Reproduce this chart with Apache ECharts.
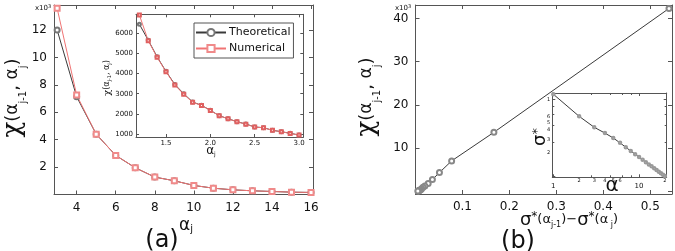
<!DOCTYPE html>
<html>
<head>
<meta charset="utf-8">
<script src="https://cdn.jsdelivr.net/npm/echarts@6/dist/echarts.min.js"></script>
<style>
  html, body { margin: 0; padding: 0; background: #fff; }
  #container { width: 675px; height: 251px; }
</style>
</head>
<body>
<div id="container"></div>
<script>
// panel (a), main plot, chi in units of 10^3
var alphaMain = [3, 4, 5, 6, 7, 8, 9, 10, 11, 12, 13, 14, 15, 16];
var chiTheo = [12.0, 7.13, 4.4, 2.85, 1.95, 1.27, 1.0, 0.66, 0.46, 0.34, 0.27, 0.22, 0.17, 0.15];
var chiNum = [13.58, 7.25, 4.4, 2.85, 1.95, 1.27, 1.0, 0.66, 0.46, 0.34, 0.27, 0.22, 0.17, 0.15];

// panel (a), inset
var alphaInset = [1.2, 1.3, 1.4, 1.5, 1.6, 1.7, 1.8, 1.9, 2.0, 2.1, 2.2, 2.3, 2.4, 2.5, 2.6, 2.7, 2.8, 2.9, 3.0];
var chiInsetTheo = [6450, 5660, 4830, 4110, 3460, 3000, 2590, 2425, 2177, 1909, 1760, 1611, 1497, 1348, 1313, 1185, 1115, 1035, 950];
var chiInsetNum = [6910, 5633, 4808, 4093, 3433, 2971, 2574, 2420, 2170, 1905, 1755, 1605, 1490, 1345, 1310, 1180, 1110, 1030, 945];

// panel (b), main plot
var sigmaDiff = [0.540, 0.167, 0.077, 0.051, 0.036, 0.027, 0.020, 0.016, 0.013, 0.011, 0.009, 0.008, 0.007, 0.006, 0.005];
var chiB = [42.3, 13.7, 7.1, 4.4, 2.8, 1.9, 1.27, 1.0, 0.66, 0.46, 0.34, 0.27, 0.22, 0.17, 0.15];

// panel (b), inset (log-log)
var alphaLog = [1, 2, 3, 4, 5, 6, 7, 8, 9, 10, 11, 12, 13, 14, 15, 16, 17, 18, 19, 20];
var sigmaStar = [1.18, 0.606, 0.435, 0.365, 0.315, 0.272, 0.238, 0.213, 0.193, 0.177, 0.163, 0.152, 0.142, 0.134, 0.126, 0.120, 0.114, 0.109, 0.104, 0.100];
var logXMinor = [2, 3, 4, 5, 6, 20];
var logXMinorText = ['2', '3', '4', '5', '6', '2'];
var logXMajor = [1, 10];
var logYTicks = [1, 0.6, 0.5, 0.4, 0.3, 0.2];
var logYText = ['1', '6', '5', '4', '3', '2'];

var FONT = 'DejaVu Sans';
var frameColor = '#555';
var black = '#3a3a3a';
var red = '#f07474';

function pairs(xs, ys) {
    var out = [];
    for (var i = 0; i < xs.length; i++) out.push([xs[i], ys[i]]);
    return out;
}

function near(v, step) {
    return Math.abs(v / step - Math.round(v / step)) < 1e-6;
}

function frameAxis(base, extra) {
    var a = {
        axisLine: {show: true, onZero: false, lineStyle: {color: frameColor, width: 1}},
        axisTick: {show: true, inside: true, length: 4, lineStyle: {color: frameColor}},
        splitLine: {show: false},
        axisLabel: {show: false}
    };
    for (var k in base) a[k] = base[k];
    for (var k2 in extra || {}) a[k2] = extra[k2];
    return a;
}

var dom = document.getElementById('container');
var myChart = echarts.init(dom, null, {renderer: 'canvas'});

var labelMain = {show: true, color: '#111', fontFamily: FONT, fontSize: 12, margin: 7};
var labelSmall = {show: true, color: '#111', fontFamily: FONT, fontSize: 7, margin: 3};
var smallTick = {show: true, inside: true, length: 3, lineStyle: {color: frameColor}};
var logMinor = {show: true, splitNumber: 5, length: 2, lineStyle: {color: frameColor}};

var option = {
    animation: false,
    backgroundColor: '#fff',
    grid: [
        {left: 54, top: 5, width: 259, height: 189.5, containLabel: false},
        {left: 136, top: 14.3, width: 167.3, height: 122.7, show: true, backgroundColor: '#fff', borderWidth: 0, z: 3},
        {left: 415.5, top: 5, width: 258.5, height: 189, containLabel: false},
        {left: 552.3, top: 93, width: 114.4, height: 84.3, show: true, backgroundColor: '#fff', borderWidth: 0, z: 3}
    ],
    xAxis: [
        frameAxis({gridIndex: 0, type: 'value', min: 2.84, max: 16.1, splitNumber: 7, position: 'bottom'}, {
            axisLabel: Object.assign({}, labelMain, {
                formatter: function (v) { return (near(v, 2) && v >= 4) ? String(Math.round(v)) : ''; }
            })
        }),
        frameAxis({gridIndex: 0, type: 'value', min: 2.84, max: 16.1, splitNumber: 7, position: 'top'}),
        frameAxis({gridIndex: 1, type: 'value', min: 1.162, max: 3.048, splitNumber: 4, position: 'bottom', z: 4}, {
            axisTick: smallTick,
            axisLabel: Object.assign({}, labelSmall, {
                formatter: function (v) { return (near(v, 0.5) && v > 1.4) ? v.toFixed(1) : ''; }
            })
        }),
        frameAxis({gridIndex: 1, type: 'value', min: 1.162, max: 3.048, splitNumber: 4, position: 'top', z: 4}, {
            axisTick: smallTick
        }),
        frameAxis({gridIndex: 2, type: 'value', min: 0, max: 0.5464, splitNumber: 5, position: 'bottom'}, {
            axisLabel: Object.assign({}, labelMain, {
                formatter: function (v) { return (near(v, 0.1) && v > 0.05 && v < 0.52) ? v.toFixed(1) : ''; }
            })
        }),
        frameAxis({gridIndex: 2, type: 'value', min: 0, max: 0.5464, splitNumber: 5, position: 'top'}),
        frameAxis({gridIndex: 3, type: 'log', logBase: 10, min: 0.973, max: 21, position: 'bottom', z: 4}, {
            axisTick: smallTick, minorTick: logMinor
        }),
        frameAxis({gridIndex: 3, type: 'log', logBase: 10, min: 0.973, max: 21, position: 'top', z: 4}, {
            axisTick: smallTick, minorTick: logMinor
        })
    ],
    yAxis: [
        frameAxis({gridIndex: 0, type: 'value', min: 0, max: 13.82, interval: 2, position: 'left'}, {
            axisLabel: Object.assign({}, labelMain, {
                formatter: function (v) { return (near(v, 2) && v > 0 && v <= 12) ? String(Math.round(v)) : ''; }
            })
        }),
        frameAxis({gridIndex: 0, type: 'value', min: 0, max: 13.82, interval: 2, position: 'right'}),
        frameAxis({gridIndex: 1, type: 'value', min: 851, max: 6943, splitNumber: 6, position: 'left', z: 4}, {
            axisTick: smallTick,
            axisLabel: Object.assign({}, labelSmall, {
                formatter: function (v) { return (near(v, 1000) && v >= 1000) ? String(Math.round(v)) : ''; }
            })
        }),
        frameAxis({gridIndex: 1, type: 'value', min: 851, max: 6943, splitNumber: 6, position: 'right', z: 4}, {
            axisTick: smallTick
        }),
        frameAxis({gridIndex: 2, type: 'value', min: -0.55, max: 43.1, splitNumber: 5, position: 'left'}, {
            axisLabel: Object.assign({}, labelMain, {
                formatter: function (v) { return (near(v, 10) && v > 5) ? String(Math.round(v)) : ''; }
            })
        }),
        frameAxis({gridIndex: 2, type: 'value', min: -0.55, max: 43.1, splitNumber: 5, position: 'right'}),
        frameAxis({gridIndex: 3, type: 'log', logBase: 10, min: 0.0962, max: 1.224, position: 'left', z: 4}, {
            axisTick: smallTick, minorTick: logMinor
        }),
        frameAxis({gridIndex: 3, type: 'log', logBase: 10, min: 0.0962, max: 1.224, position: 'right', z: 4}, {
            axisTick: smallTick, minorTick: logMinor
        })
    ],
    legend: {
        show: true,
        orient: 'vertical',
        left: 194,
        top: 23,
        z: 6,
        data: ['Theoretical', 'Numerical'],
        itemWidth: 30,
        itemHeight: 9,
        itemGap: 5,
        padding: [4, 3, 4, 1],
        borderColor: frameColor,
        borderWidth: 1,
        backgroundColor: '#fff',
        textStyle: {fontFamily: FONT, fontSize: 11, color: '#111', padding: [0, 0, 0, -2]}
    },
    series: [
        {
            name: 'Theoretical', type: 'line', xAxisIndex: 0, yAxisIndex: 0, z: 2,
            data: pairs(alphaMain, chiTheo),
            symbol: 'emptyCircle', symbolSize: 5,
            lineStyle: {color: black, width: 1},
            itemStyle: {color: '#777', borderColor: '#777', borderWidth: 0.8}
        },
        {
            name: 'Numerical', type: 'line', xAxisIndex: 0, yAxisIndex: 0, z: 2,
            data: pairs(alphaMain, chiNum),
            symbol: 'emptyRect', symbolSize: 5,
            lineStyle: {color: red, width: 1},
            itemStyle: {color: '#f08a8a', borderColor: '#f08a8a', borderWidth: 0.8}
        },
        {
            name: 'Theoretical', type: 'line', xAxisIndex: 2, yAxisIndex: 2, z: 5,
            data: pairs(alphaInset, chiInsetTheo),
            symbol: 'emptyCircle', symbolSize: 3,
            lineStyle: {color: black, width: 1},
            itemStyle: {color: '#777', borderColor: '#777', borderWidth: 0.6}
        },
        {
            name: 'Numerical', type: 'line', xAxisIndex: 2, yAxisIndex: 2, z: 5,
            data: pairs(alphaInset, chiInsetNum),
            symbol: 'emptyRect', symbolSize: 3,
            lineStyle: {color: red, width: 1},
            itemStyle: {color: '#e06060', borderColor: '#e06060', borderWidth: 0.6}
        },
        {
            name: 'chiB', type: 'line', xAxisIndex: 4, yAxisIndex: 4, z: 2,
            data: pairs(sigmaDiff, chiB),
            symbol: 'emptyCircle', symbolSize: 5,
            lineStyle: {color: black, width: 1},
            itemStyle: {color: '#888', borderColor: '#888', borderWidth: 0.8}
        },
        {
            name: 'sigmaStar', type: 'line', xAxisIndex: 6, yAxisIndex: 6, z: 5,
            data: pairs(alphaLog, sigmaStar),
            symbol: 'emptyCircle', symbolSize: 2.5,
            lineStyle: {color: black, width: 1},
            itemStyle: {color: '#999', borderColor: '#999', borderWidth: 0.5}
        }
    ]
};

myChart.setOption(option, true);

// texts: axis names, panel tags, and the log inset labels placed through the inset scales
var graphics = [];

function txt(x, y, text, rich, extra) {
    var g = {
        type: 'text', x: x, y: y, z: 10,
        style: {text: text, rich: rich || {}, fontFamily: FONT, fill: '#111', align: 'center', verticalAlign: 'middle'}
    };
    for (var k in extra || {}) {
        if (k === 'style') { for (var s in extra.style) g.style[s] = extra.style[s]; }
        else g[k] = extra[k];
    }
    return g;
}

var chiRich = {
    c: {fontSize: 26, fontFamily: 'DejaVu Serif', fill: '#111', lineHeight: 30},
    p: {fontSize: 18, fontFamily: FONT, fill: '#111'},
    a: {fontSize: 17, fontFamily: FONT, fill: '#111'},
    s: {fontSize: 10, fontFamily: FONT, fill: '#111', verticalAlign: 'bottom'}
};
var chiText = '{c|χ}{p|(}{a|α}{s|j-1}{p|, }{a|α}{s|j}{p|)}';

graphics.push(txt(13, 98, chiText, chiRich, {rotation: Math.PI / 2}));
graphics.push(txt(367, 97, chiText, chiRich, {rotation: Math.PI / 2}));

// x10^3 markers
var expRich = {
    n: {fontSize: 7, fontFamily: FONT, fill: '#111'},
    e: {fontSize: 5, fontFamily: FONT, fill: '#111', verticalAlign: 'top'}
};
graphics.push(txt(43, 8, '{n|x10}{e|3}', expRich));
graphics.push(txt(403, 8, '{n|x10}{e|3}', expRich));

// alpha_j name and (a)
graphics.push(txt(186, 226, '{a|α}{s|j}', {
    a: {fontSize: 17, fontFamily: FONT, fill: '#111'},
    s: {fontSize: 10, fontFamily: FONT, fill: '#111', verticalAlign: 'bottom'}
}));
graphics.push(txt(162, 241, '(a)', null, {style: {fontSize: 24, fontFamily: FONT}}));

// sigma difference name and (b)
graphics.push(txt(569, 220, '{g|σ}{st|*}{p|(α}{s|j-1}{p|)−}{g|σ}{st|*}{p|(α}{s| j}{p|)}', {
    g: {fontSize: 18, fontFamily: FONT, fill: '#111'},
    st: {fontSize: 12, fontFamily: FONT, fill: '#111', verticalAlign: 'top'},
    p: {fontSize: 13, fontFamily: FONT, fill: '#111'},
    s: {fontSize: 8, fontFamily: FONT, fill: '#111', verticalAlign: 'bottom'}
}));
graphics.push(txt(518, 242, '(b)', null, {style: {fontSize: 24, fontFamily: FONT}}));

// inset (a) axis names
graphics.push(txt(107, 78, '{c|χ}{p|(α}{s|j-1}{p|, α}{s|j}{p|)}', {
    c: {fontSize: 10, fontFamily: 'DejaVu Serif', fill: '#111'},
    p: {fontSize: 8, fontFamily: FONT, fill: '#111'},
    s: {fontSize: 5, fontFamily: FONT, fill: '#111', verticalAlign: 'bottom'}
}, {rotation: Math.PI / 2}));
graphics.push(txt(211, 151, '{a|α}{s|j}', {
    a: {fontSize: 12, fontFamily: FONT, fill: '#111'},
    s: {fontSize: 6, fontFamily: FONT, fill: '#111', verticalAlign: 'bottom'}
}));

// inset (b) axis names
graphics.push(txt(540, 137, '{g|σ}{st|*}', {
    g: {fontSize: 18, fontFamily: FONT, fill: '#111'},
    st: {fontSize: 13, fontFamily: FONT, fill: '#111', verticalAlign: 'top'}
}, {rotation: Math.PI / 2}));
graphics.push(txt(612, 186, 'α', null, {style: {fontSize: 20, fontFamily: FONT}}));

// inset (b) tick labels via the log scales
var yBottom = myChart.convertToPixel({gridIndex: 3}, [1, 0.0962])[1];
var xLeft = myChart.convertToPixel({gridIndex: 3}, [0.973, 1])[0];
for (var i = 0; i < logXMinor.length; i++) {
    var px = myChart.convertToPixel({gridIndex: 3}, [logXMinor[i], 0.5])[0];
    graphics.push(txt(px, yBottom + 3, logXMinorText[i], null, {style: {fontSize: 5}}));
}
for (var j = 0; j < logXMajor.length; j++) {
    var px2 = myChart.convertToPixel({gridIndex: 3}, [logXMajor[j], 0.5])[0];
    graphics.push(txt(px2, yBottom + 9, String(logXMajor[j]), null, {style: {fontSize: 7}}));
}
for (var m = 0; m < logYTicks.length; m++) {
    var py = myChart.convertToPixel({gridIndex: 3}, [2, logYTicks[m]])[1];
    graphics.push(txt(xLeft - 2, py, logYText[m], null, {style: {fontSize: 5, align: 'right'}}));
}

myChart.setOption({graphic: graphics});
</script>
</body>
</html>
